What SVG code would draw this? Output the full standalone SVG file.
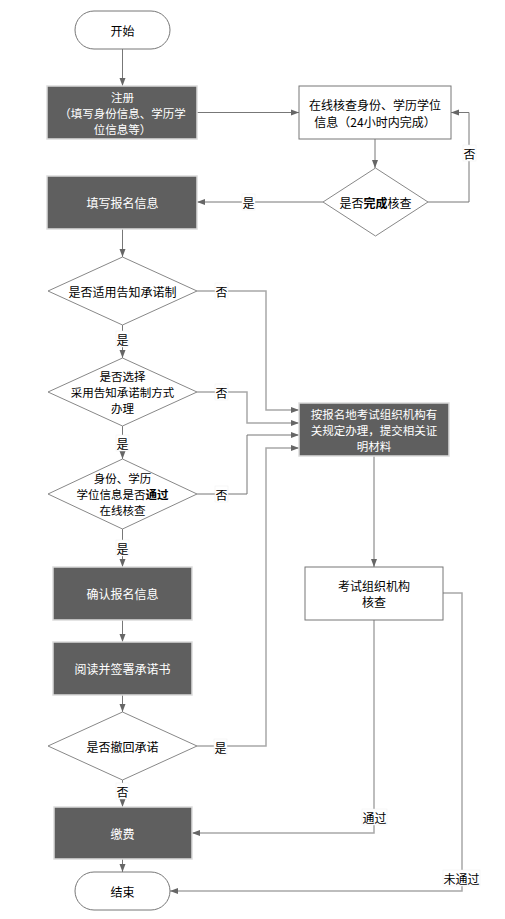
<svg xmlns="http://www.w3.org/2000/svg" width="505" height="919" viewBox="0 0 505 919">
<style>
text{font-family:"Noto Sans CJK SC","Liberation Sans",sans-serif;font-size:12px;text-anchor:middle;dominant-baseline:central;fill:#000}
.m{font-size:11.5px}
.dark{fill:#5f5f5f;stroke:#dcdcdc;stroke-width:1.5}
.w{fill:#fff}
.light{fill:#fff;stroke:#777;stroke-width:1}
.term{fill:#fff;stroke:#777;stroke-width:1}
.dia{fill:#fff;stroke:#888;stroke-width:1}
.c{fill:none;stroke:#777;stroke-width:1}
.c2{fill:none;stroke:#a8a8a8;stroke-width:1.5}
.lb{fill:#fff;stroke:#eee;stroke-width:0.5}
.b{font-weight:bold}
</style>
<defs>
<marker id="ah" viewBox="0 0 8 8" refX="8" refY="4" markerWidth="8" markerHeight="8" markerUnits="userSpaceOnUse" orient="auto">
<path d="M0,1 L8,4 L0,7 Z" fill="#666"/>
</marker>
</defs>
<rect width="505" height="919" fill="#fff"/>
<g id="connectors">
<path class="c" d="M122.5,49 V86" marker-end="url(#ah)"/>
<path class="c" d="M197,112.5 H299" marker-end="url(#ah)"/>
<path class="c" d="M375,139 V168" marker-end="url(#ah)"/>
<path class="c" d="M428,202 H469 V112.5 H451" marker-end="url(#ah)"/>
<path class="c" d="M323,202 H197" marker-end="url(#ah)"/>
<path class="c" d="M122.5,229 V257" marker-end="url(#ah)"/>
<path class="c2" d="M197,291 H266 V410 H299" marker-end="url(#ah)"/>
<path class="c" d="M122.5,325 V358" marker-end="url(#ah)"/>
<path class="c2" d="M197,392 H247 V423 H299" marker-end="url(#ah)"/>
<path class="c" d="M122.5,426 V459" marker-end="url(#ah)"/>
<path class="c" d="M197,494 H247 V435 H299" marker-end="url(#ah)"/>
<path class="c" d="M122.5,528 V567" marker-end="url(#ah)"/>
<path class="c" d="M122.5,620 V642" marker-end="url(#ah)"/>
<path class="c" d="M122.5,695 V712" marker-end="url(#ah)"/>
<path class="c2" d="M197,746 H266 V448 H299" marker-end="url(#ah)"/>
<path class="c" d="M122.5,780 V807" marker-end="url(#ah)"/>
<path class="c" d="M122.5,859 V872" marker-end="url(#ah)"/>
<path class="c" d="M374,456 V567" marker-end="url(#ah)"/>
<path class="c2" d="M374,620 V833 H192" marker-end="url(#ah)"/>
<path class="c2" d="M443,593 H462 V891 H170" marker-end="url(#ah)"/>
<rect class="lb" x="463" y="145" width="13" height="16"/><text x="469.5" y="153">否</text>
<rect class="lb" x="242" y="194" width="13" height="16"/><text x="248.5" y="202">是</text>
<rect class="lb" x="215" y="283" width="13" height="16"/><text x="221.5" y="291">否</text>
<rect class="lb" x="116" y="331" width="13" height="16"/><text x="122.5" y="339">是</text>
<rect class="lb" x="215" y="384" width="13" height="16"/><text x="221.5" y="392">否</text>
<rect class="lb" x="116" y="435" width="13" height="16"/><text x="122.5" y="443">是</text>
<rect class="lb" x="215" y="486" width="13" height="16"/><text x="221.5" y="494">否</text>
<rect class="lb" x="116" y="540" width="13" height="16"/><text x="122.5" y="548">是</text>
<rect class="lb" x="214" y="739" width="13" height="16"/><text x="220.5" y="747">是</text>
<rect class="lb" x="116" y="783" width="13" height="16"/><text x="122.5" y="791">否</text>
<rect class="lb" x="362" y="809" width="25" height="16"/><text x="374.5" y="817">通过</text>
<rect class="lb" x="443" y="870" width="37" height="16"/><text x="461.5" y="878">未通过</text>
</g>
<g id="start"><rect class="term" x="75" y="11" width="95" height="38" rx="19"/><text x="122.5" y="30">开始</text></g>
<g id="register"><rect class="dark" x="47" y="86" width="150" height="53"/><text class="w m" x="122.5" y="96.5">注册</text><text class="w m" x="122.5" y="112.5">（填写身份信息、学历学</text><text class="w m" x="122.5" y="128.5">位信息等）</text></g>
<g id="online-check"><rect class="light" x="299" y="86" width="152" height="53"/><text x="375" y="104">在线核查身份、学历学位</text><text x="375" y="121">信息（24小时内完成）</text></g>
<g id="done-check"><polygon class="dia" points="375.5,168 428,202 375.5,236 323,202"/><text x="375.5" y="202">是否<tspan class="b">完成</tspan>核查</text></g>
<g id="fill-info"><rect class="dark" x="47" y="176" width="150" height="53"/><text class="w" x="122.5" y="202.5">填写报名信息</text></g>
<g id="d1"><polygon class="dia" points="122.5,257 197,291 122.5,325 48,291"/><text x="122.5" y="291">是否适用告知承诺制</text></g>
<g id="d2"><polygon class="dia" points="122.5,358 197,392 122.5,426 48,392"/><text class="m" x="122.5" y="376">是否选择</text><text class="m" x="122.5" y="392">采用告知承诺制方式</text><text class="m" x="122.5" y="408">办理</text></g>
<g id="d3"><polygon class="dia" points="122.5,459 197,494 122.5,529 48,494"/><text class="m" x="122.5" y="477.5">身份、学历</text><text class="m" x="122.5" y="493.5">学位信息是否<tspan class="b">通过</tspan></text><text class="m" x="122.5" y="509.5">在线核查</text></g>
<g id="regulation"><rect class="dark" x="299" y="403" width="150" height="53"/><text class="w m" x="374" y="413.5">按报名地考试组织机构有</text><text class="w m" x="374" y="429.5">关规定办理，提交相关证</text><text class="w m" x="374" y="445.5">明材料</text></g>
<g id="confirm"><rect class="dark" x="53" y="567" width="139" height="53"/><text class="w" x="122.5" y="593.5">确认报名信息</text></g>
<g id="sign"><rect class="dark" x="53" y="642" width="139" height="53"/><text class="w" x="122.5" y="668.5">阅读并签署承诺书</text></g>
<g id="d4"><polygon class="dia" points="122.5,712 197,746 122.5,780 48,746"/><text x="122.5" y="746">是否撤回承诺</text></g>
<g id="org-check"><rect class="light" x="305" y="567" width="138" height="53"/><text x="374" y="585">考试组织机构</text><text x="374" y="601">核查</text></g>
<g id="pay"><rect class="dark" x="54" y="807" width="138" height="52"/><text class="w" x="122.5" y="833">缴费</text></g>
<g id="end"><rect class="term" x="75" y="872" width="95" height="38" rx="19"/><text x="122.5" y="891">结束</text></g>
</svg>
